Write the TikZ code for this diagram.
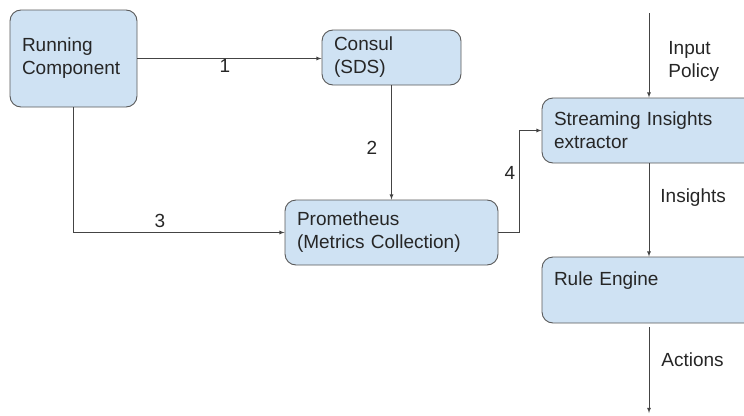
\documentclass[tikz,border=0pt]{standalone}
\usepackage{fontspec}
\setmainfont{Liberation Sans}
\usepackage{tikz}
\usetikzlibrary{positioning}
\usepackage{xcolor}
\definecolor{boxfill}{HTML}{CFE2F3}
\definecolor{boxline}{HTML}{595959}
\definecolor{wire}{HTML}{444444}

\begin{document}
\begin{tikzpicture}[x=1pt, y=-1pt,
    box/.style={rectangle, rounded corners=11pt, draw=boxline, fill=boxfill, line width=0.9pt,
      align=left, inner xsep=12pt, font=\fontsize{19}{23}\selectfont, text=black!85},
    lbl/.style={font=\fontsize{19}{23}\selectfont, text=black!85, align=left, inner sep=0pt},
    wire/.style={draw=wire, line width=0.8pt, -latex}]
    \useasboundingbox (0,0) rectangle (744,415);
    \clip (0,0) rectangle (744,415);

    \node[box, text width=103pt, minimum height=97pt] (run) at (73.5, 58.5) {Running\\Component};
    \node[box, text width=115pt, minimum height=55pt] (consul) at (391.5, 57.5) {Consul\\(SDS)};
    \node[box, text width=189pt, minimum height=65pt] (prom) at (391.5, 232.5) {Prometheus\\(Metrics Collection)};
    \node[box, text width=204pt, minimum height=65pt] (stream) at (656, 130.5) {Streaming Insights\\extractor};
    \node[box, text width=204pt, minimum height=66pt] (rule) at (656, 290) {Rule Engine\\\mbox{}};

    \coordinate (inp) at (649, 13);
    \coordinate (act) at (649, 413);

    \draw[wire] (run.east) -- (run.east -| consul.west) node[lbl] (l1) at (225, 66) {1};
    \draw[wire] (consul.south) -- (prom.north) node[lbl] (l2) at (372, 148) {2};
    \draw[wire] (run.south) |- (prom.west) node[lbl] (l3) at (160, 221) {3};
    \draw[wire] (prom.east) -- ++(21, 0) |- (stream.west) node[lbl] (l4) at (510, 173) {4};

    \draw[wire] (inp) -- (inp |- stream.north) node[lbl, anchor=west] (lpol) at (668, 61) {Input\\Policy};
    \draw[wire] (stream.south -| inp) -- (rule.north -| inp) node[lbl, anchor=west] (lins) at (660, 198) {Insights};
    \draw[wire] ([yshift=-4pt]rule.south -| inp) -- (act) node[lbl, anchor=west] (lact) at (661, 360) {Actions};
  \end{tikzpicture}
\end{document}
